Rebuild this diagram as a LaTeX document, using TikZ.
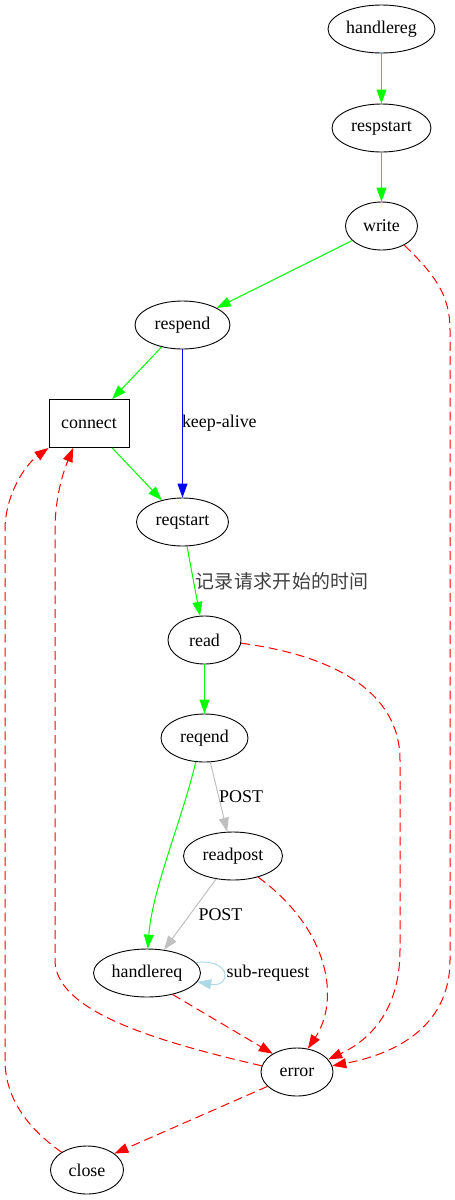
\documentclass[tikz,border=0pt]{standalone}
\usepackage{fontspec}
\setmainfont{Liberation Serif}
\newfontfamily\cjkfont[LetterSpace=2]{Noto Sans CJK SC}
\usepackage{tikz}
\usetikzlibrary{shapes.geometric,arrows.meta}
\definecolor{litblue}{HTML}{ADD8E6}
\definecolor{postgray}{HTML}{C0C0C0}

\begin{document}
\begin{tikzpicture}[x=1bp,y=-1bp,
    st/.style={ellipse,draw,line width=0.9pt,minimum height=48bp,inner xsep=0pt,
      font=\fontsize{18}{20}\selectfont},
    ed/.style={line width=1bp,-{Triangle[length=14pt,width=10pt]}},
    err/.style={ed,red,dash pattern=on 9pt off 5pt},
    lbl/.style={font=\fontsize{18}{20}\selectfont,text=black,inner sep=0pt,anchor=west}]
  \useasboundingbox (0,0) rectangle (455,1200);
  \node[st,minimum width=107bp] (handlereg) at (381.5,29) {handlereg};
  \node[st,minimum width=99bp] (respstart) at (381.5,128) {respstart};
  \node[st,minimum width=72bp] (write) at (381.5,226) {write};
  \node[st,minimum width=95bp] (respend) at (182.5,325) {respend};
  \node[draw,line width=0.9pt,minimum width=80bp,minimum height=48bp,
    font=\fontsize{18}{20}\selectfont] (connect) at (89,423.5) {connect};
  \node[st,minimum width=92bp] (reqstart) at (182.5,522) {reqstart};
  \node[st,minimum width=73bp] (read) at (204.5,640) {read};
  \node[st,minimum width=87bp] (reqend) at (204.5,738) {reqend};
  \node[st,minimum width=99bp] (readpost) at (233,856) {readpost};
  \node[st,minimum width=107bp] (handlereq) at (147,973) {handlereq};
  \node[st,minimum width=72bp] (error) at (297,1072) {error};
  \node[st,minimum width=73bp] (close) at (87,1170) {close};

  \draw[ed,green] (handlereg) -- (respstart); \draw[ed,green] (respstart) -- (write);
  \draw[ed,green] (write) -- (respend); \draw[ed,green] (respend) -- (connect);
  \draw[ed,blue] (respend) -- node[lbl,xshift=-1pt] (lblka) {keep-alive} (reqstart);
  \draw[ed,green] (connect) -- (reqstart);
  \draw[ed,green] (reqstart) -- node[lbl,xshift=1.5pt,text=black!75,
    font=\cjkfont\fontsize{19}{21}\selectfont] (lbltime) {记录请求开始的时间} (read);
  \draw[ed,green] (read) -- (reqend);
  \draw[ed,green] (reqend.-110) .. controls (182,820) and (152,890) .. (handlereq.88);
  \draw[ed,postgray] (reqend) -- node[lbl] (lblpost) {POST} (readpost);
  \draw[ed,postgray] (readpost) -- node[lbl,xshift=8pt] (lblpostb) {POST} (handlereq);
  \draw[ed,litblue] (handlereq.12) .. controls (232,958) and (232,988) ..
    node[lbl,xshift=3pt] (lblsub) {sub-request} (handlereq.-10);
  \draw[err] (write.-40) .. controls (435,275) and (450,295) .. (450,330) -- (450,960)
    .. controls (450,1030) and (390,1055) .. (error.10);
  \draw[err] (read.-5) .. controls (330,655) and (400,690) .. (400,760) -- (400,950)
    .. controls (400,1010) and (370,1040) .. (error.22);
  \draw[err] (readpost.-40) .. controls (330,930) and (340,1000) .. (error.65);
  \draw[err] (handlereq.-40) -- (error.143);
  \draw[err] (error.170) .. controls (150,1040) and (55,1010) .. (55,960) -- (55,530)
    .. controls (55,500) and (62,475) .. (connect.-123);
  \draw[err] (error.-154) -- (close.31);
  \draw[err] (close.145) .. controls (30,1130) and (5,1100) .. (5,1060) -- (5,530)
    .. controls (5,495) and (25,465) .. (connect.south west);
\end{tikzpicture}
\end{document}
